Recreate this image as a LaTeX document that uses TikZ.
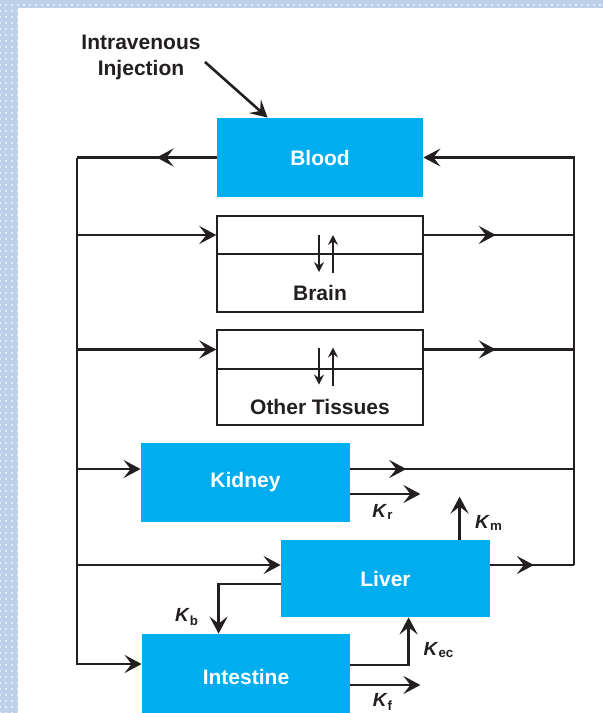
\documentclass[tikz,border=0pt]{standalone}
\usepackage{fontspec}
\setmainfont{Liberation Sans}
\usetikzlibrary{arrows.meta,positioning,calc,decorations.markings,patterns}
\definecolor{OrganBlue}{RGB}{0,173,239}
\definecolor{FrameBlue}{RGB}{188,208,234}
\definecolor{InkDark}{RGB}{35,31,32}
\newcommand{\rate}[1]{\textbf{\textit{K}\textsubscript{#1}}}

\begin{document}
\begin{tikzpicture}[
    x=0.5pt,y=-0.5pt,
    organ/.style={fill=OrganBlue,text=white,inner sep=0pt,
                  font=\bfseries\fontsize{10.5}{12}\selectfont,
                  minimum width=104.5pt,minimum height=39.5pt},
    tissue/.style={draw=InkDark,line width=0.7pt,fill=white,inner sep=0pt,
                   minimum width=103pt},
    lbl/.style={text=InkDark,inner sep=0pt,align=center,
                font=\bfseries\fontsize{10.5}{13}\selectfont},
    ratelbl/.style={text=InkDark,inner sep=0pt,font=\fontsize{9.5}{11}\selectfont},
    flow/.style={draw=InkDark,line width=1.3pt},
    arr/.style={flow,-{Stealth[length=8.5pt,width=9pt,inset=3.5pt]}},
    midarr/.style={flow,postaction={decorate},
                   decoration={markings,mark=at position #1 with
                     {\arrow{Stealth[length=8.5pt,width=9pt,inset=3.5pt]}}}},
    swap/.style={draw=InkDark,line width=0.6pt,
                 -{Stealth[length=5pt,width=5pt,inset=1.8pt]}}
  ]
    % frame
    \useasboundingbox (0,0) rectangle (603,713);
    \clip (0,0) rectangle (603,713);
    \fill[FrameBlue] (0,0) rectangle (603,713);
    \fill[pattern=dots,pattern color=white] (0,0) rectangle (603,713);
    \fill[white] (18,8) rectangle (603,713);

    % compartments
    \node[organ,minimum width=103pt] (blood) at (320,157.5) {Blood};
    \node[tissue,minimum height=19pt] (brainup)  at (320,235) {};
    \node[tissue,minimum height=29pt] (brainlow) at (320,283) {};
    \node[lbl] (brainname) at (320,293) {Brain};
    \node[tissue,minimum height=19.5pt] (othup)  at (320,349.5) {};
    \node[tissue,minimum height=28pt]   (othlow) at (320,397) {};
    \node[lbl] (othname) at (320,407) {Other Tissues};
    \node[organ] (kidney) at (245.5,482.5) {Kidney};
    \node[organ,minimum height=38.5pt] (liver) at (385.5,578.5) {Liver};
    \node[organ,minimum width=104pt,minimum height=43pt] (intestine) at (246,677) {Intestine};
    \node[lbl] (iv) at (141,57) {Intravenous\\Injection};

    % exchange inside tissues
    \draw[swap] ($(brainup.center)+(-1,0)$) -- ++(0,37);
    \draw[swap] ($(brainup.center)+(13,38)$) -- ++(0,-38);
    \draw[swap] ($(othup.center)+(-1,-2)$) -- ++(0,37);
    \draw[swap] ($(othup.center)+(13,36)$) -- ++(0,-38);

    % trunks
    \coordinate (tl) at (77,157.5);
    \coordinate (tr) at (574,157.5);
    \coordinate (bl) at (77,664);
    \coordinate (br) at (574,565);
    \coordinate (kin)  at ($(kidney.west)+(0,-13.5)$);
    \coordinate (kout) at ($(kidney.east)+(0,-13.5)$);
    \coordinate (lin)  at ($(liver.west)+(0,-13.5)$);
    \coordinate (lout) at ($(liver.east)+(0,-13.5)$);
    \coordinate (ivstart) at (205,62);

    \draw[arr] (ivstart) -- ($(blood.north west)+(51,0)$);
    \draw[midarr=0.43] (blood.west) -- (tl);
    \draw[arr] (tl) -- (bl) -- (bl -| intestine.west);
    \draw[arr] (tl |- brainup.west) -- (brainup.west);
    \draw[arr] (tl |- othup.west) -- (othup.west);
    \draw[arr] (tl |- kin) -- (kin);
    \draw[arr] (tl |- lin) -- (lin);
    \draw[arr] (br) -- (tr) -- (blood.east);
    \draw[midarr=0.48] (brainup.east) -- (brainup.east -| tr);
    \draw[midarr=0.48] (othup.east) -- (othup.east -| tr);
    \draw[midarr=0.25] (kout) -- (kout -| tr);
    \draw[midarr=0.52] (lout) -- (br);

    % elimination and recycling
    \draw[arr] ($(kidney.east)+(0,11.5)$) -- ++(70,0);
    \draw[arr] ($(liver.north west)+(179,0)$) -- ++(0,-43);
    \draw[arr] ($(liver.west)+(0,5.5)$) -| ($(intestine.north west)+(77,0)$);
    \draw[arr] ($(intestine.east)+(0,-12)$) -| ($(liver.south west)+(128,0)$);
    \draw[arr] ($(intestine.east)+(0,8)$) -- ++(70,0);

    \node[ratelbl] (kr)  at (383,512) {\rate{r}};
    \node[ratelbl] (km)  at (489,523) {\rate{m}};
    \node[ratelbl] (kb)  at (187,617) {\rate{b}};
    \node[ratelbl] (kec) at (439,650) {\rate{ec}};
    \node[ratelbl] (kf)  at (383,702) {\rate{f}};
  \end{tikzpicture}
\end{document}
